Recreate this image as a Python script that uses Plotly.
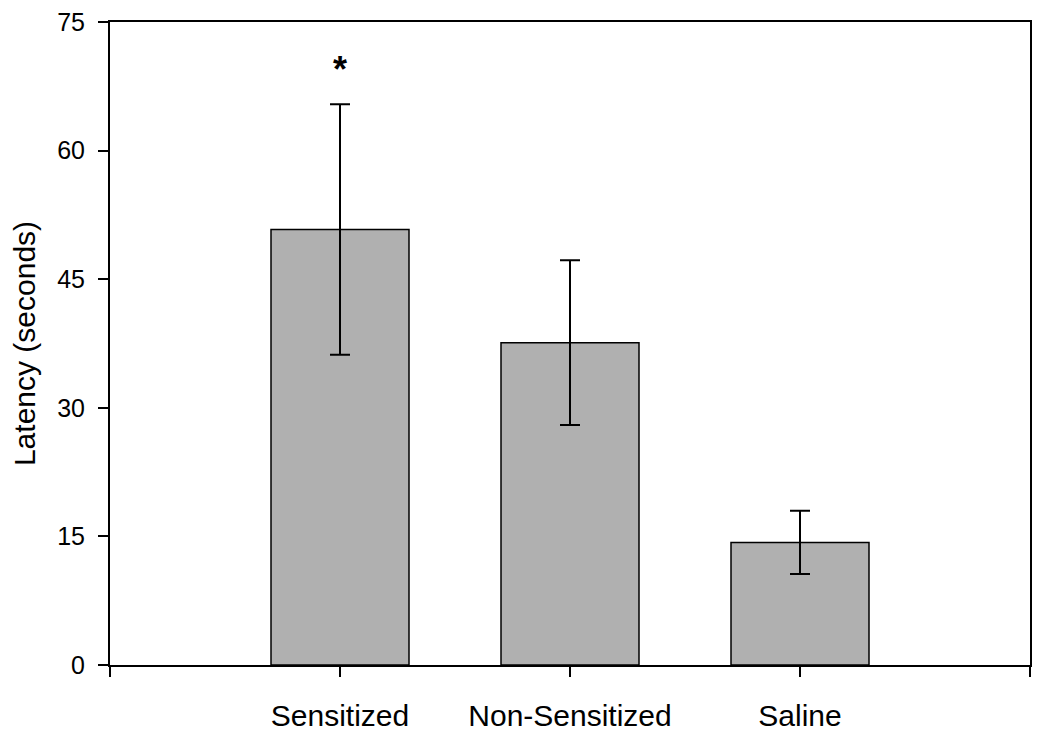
import plotly.graph_objects as go

categories = ["Sensitized", "Non-Sensitized", "Saline"]
means = [50.8, 37.6, 14.3]
errors = [14.6, 9.6, 3.7]
y_ticks = [0, 15, 30, 45, 60, 75]
sig_label = "*"

x_pos = list(range(len(categories)))

fig = go.Figure()
fig.add_trace(go.Bar(
    x=x_pos, y=means, width=0.6,
    marker=dict(color="#b0b0b0", line=dict(color="black", width=1.5)),
    error_y=dict(type="data", array=errors, visible=True, color="black", thickness=2, width=10),
    showlegend=False,
))

fig.add_annotation(x=x_pos[0], y=70, text="<b>" + sig_label + "</b>", showarrow=False,
                   font=dict(family="Liberation Sans, Arial", size=36, color="black"),
                   yanchor="middle", yshift=-5)

# page body has an 8px default margin; figure is sized to fit the 1050x741 window
fig.update_layout(
    width=1034, height=733,
    margin=dict(l=102, r=12, t=14, b=76),
    plot_bgcolor="white", paper_bgcolor="white",
    font=dict(family="Liberation Sans, Arial", color="black"),
    xaxis=dict(
        range=[-1, 3], tickmode="array",
        tickvals=[-1] + x_pos + [3], ticktext=[""] + categories + [""],
        ticks="outside", ticklen=10, tickwidth=2, tickcolor="black",
        showline=True, linecolor="black", linewidth=2, mirror=True,
        showgrid=False, zeroline=False, automargin=False,
        tickfont=dict(size=30), ticklabelstandoff=13,
        ticklabeloverflow="allow",
    ),
    yaxis=dict(
        range=[0, 75], tickmode="array", tickvals=y_ticks,
        ticks="outside", ticklen=10, tickwidth=2, tickcolor="black",
        showline=True, linecolor="black", linewidth=2, mirror=True,
        showgrid=False, zeroline=False, automargin=False,
        tickfont=dict(size=25), ticklabelstandoff=8,
        ticklabeloverflow="allow",
        title=dict(text="Latency (seconds)", font=dict(size=30), standoff=16),
    ),
)

fig.write_html("out.html")
